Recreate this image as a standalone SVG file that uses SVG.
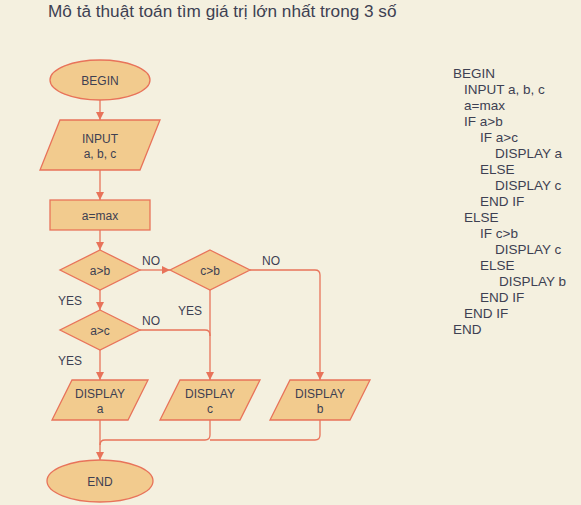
<svg xmlns="http://www.w3.org/2000/svg" width="581" height="505" viewBox="0 0 581 505">
<defs>
<marker id="ah" markerUnits="userSpaceOnUse" markerWidth="9" markerHeight="9" refX="8" refY="4" orient="auto">
<path d="M0,0 L8,4 L0,8 z" fill="#E8735A"/>
</marker>
<style>
text{font-family:"Liberation Sans",Arial,sans-serif;fill:#3D4052}
.n{font-size:12px;text-anchor:middle}
.l{font-size:12px}
.s{fill:#F2CB8E;stroke:#E8735A;stroke-width:1.3}
.c{fill:none;stroke:#E8735A;stroke-width:1.3}
.a{marker-end:url(#ah)}
.p{font-size:13.5px}
</style>
</defs>
<rect width="581" height="505" fill="#F4F0DF"/>
<text x="48" y="16.5" style="font-size:17.2px">Mô tả thuật toán tìm giá trị lớn nhất trong 3 số</text>

<g id="connectors">
<path class="c a" d="M100,100 V120"/>
<path class="c a" d="M100,170 V200"/>
<path class="c a" d="M100,230 V250"/>
<path class="c a" d="M140,270 H170"/>
<path class="c a" d="M100,290 V310"/>
<path class="c a" d="M250,270 H315 Q320,270 320,275 V380"/>
<path class="c a" d="M140,330 H205 Q210,330 210,335 V380"/>
<path class="c" d="M210,290 V336"/>
<path class="c a" d="M100,350 V380"/>
<path class="c a" d="M100,420 V460"/>
<path class="c" d="M210,420 V435 Q210,440 205,440 H105 Q100,440 100,445"/>
<path class="c" d="M320,420 V435 Q320,440 315,440 H210"/>
<text class="l" x="142" y="265">NO</text>
<text class="l" x="262" y="265">NO</text>
<text class="l" x="58" y="305">YES</text>
<text class="l" x="178" y="315">YES</text>
<text class="l" x="142" y="325">NO</text>
<text class="l" x="58" y="365">YES</text>
</g>

<g id="begin">
<ellipse class="s" cx="100" cy="80" rx="50" ry="20"/>
<text class="n" x="100" y="85">BEGIN</text>
</g>
<g id="input">
<polygon class="s" points="60,120 160,120 140,170 40,170"/>
<text class="n" x="100" y="143">INPUT</text>
<text class="n" x="100" y="158">a, b, c</text>
</g>
<g id="amax">
<rect class="s" x="50" y="200" width="100" height="30"/>
<text class="n" x="100" y="220">a=max</text>
</g>
<g id="dec-ab">
<polygon class="s" points="100,250 140,270 100,290 60,270"/>
<text class="n" x="100" y="274.5">a&gt;b</text>
</g>
<g id="dec-cb">
<polygon class="s" points="210,250 250,270 210,290 170,270"/>
<text class="n" x="210" y="274.5">c&gt;b</text>
</g>
<g id="dec-ac">
<polygon class="s" points="100,310 140,330 100,350 60,330"/>
<text class="n" x="100" y="334.5">a&gt;c</text>
</g>
<g id="display-a">
<polygon class="s" points="72,380 148,380 128,420 52,420"/>
<text class="n" x="100" y="398">DISPLAY</text>
<text class="n" x="100" y="413">a</text>
</g>
<g id="display-c">
<polygon class="s" points="180,380 260,380 240,420 160,420"/>
<text class="n" x="210" y="398">DISPLAY</text>
<text class="n" x="210" y="413">c</text>
</g>
<g id="display-b">
<polygon class="s" points="290,380 370,380 350,420 270,420"/>
<text class="n" x="320" y="398">DISPLAY</text>
<text class="n" x="320" y="413">b</text>
</g>
<g id="end">
<ellipse class="s" cx="100" cy="481" rx="53" ry="21"/>
<text class="n" x="100" y="486">END</text>
</g>

<g id="pseudocode" class="p">
<text class="p" x="453" y="78">BEGIN</text>
<text class="p" x="464" y="94">INPUT a, b, c</text>
<text class="p" x="464" y="110">a=max</text>
<text class="p" x="464" y="126">IF a&gt;b</text>
<text class="p" x="480" y="142">IF a&gt;c</text>
<text class="p" x="495" y="158">DISPLAY a</text>
<text class="p" x="480" y="174">ELSE</text>
<text class="p" x="495" y="190">DISPLAY c</text>
<text class="p" x="480" y="206">END IF</text>
<text class="p" x="464" y="222">ELSE</text>
<text class="p" x="480" y="238">IF c&gt;b</text>
<text class="p" x="495" y="254">DISPLAY c</text>
<text class="p" x="480" y="270">ELSE</text>
<text class="p" x="499" y="286">DISPLAY b</text>
<text class="p" x="480" y="302">END IF</text>
<text class="p" x="464" y="318">END IF</text>
<text class="p" x="453" y="334">END</text>
</g>
</svg>
